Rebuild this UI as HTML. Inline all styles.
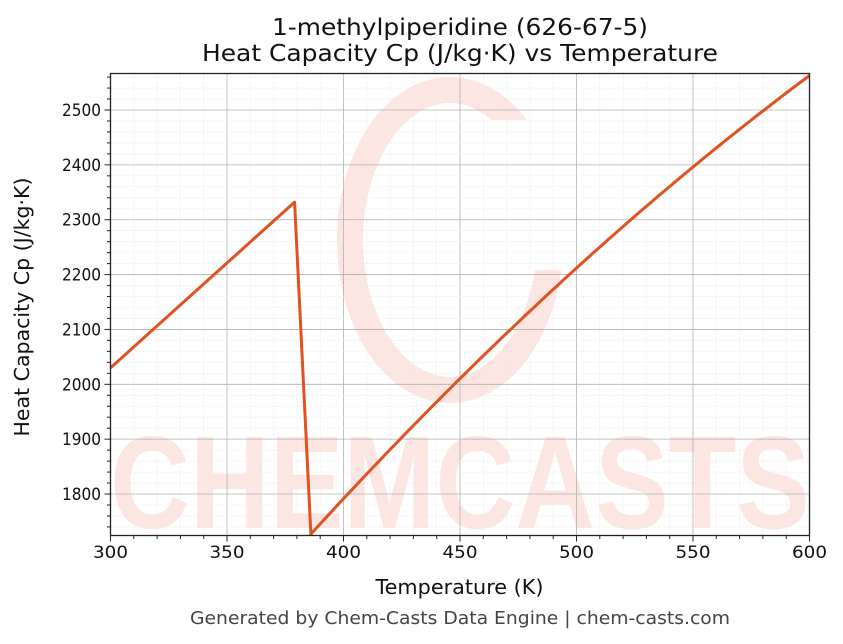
<!DOCTYPE html>
<html><head><meta charset="utf-8"><style>
html,body{margin:0;padding:0;background:#fff;}
svg{display:block;font-family:"DejaVu Sans","Liberation Sans",sans-serif;}
</style></head><body>
<svg id="s" width="843" height="644" viewBox="0 0 843 644" xmlns="http://www.w3.org/2000/svg">
<rect width="843" height="644" fill="#fff"/>
<g id="wm">
<ellipse cx="450" cy="240" rx="100" ry="150" fill="none" stroke="#fde6e2" stroke-width="26"/>
<rect x="482" y="120" width="100" height="150" fill="#fff"/>
<text x="460" y="528" text-anchor="middle" font-size="132" font-weight="bold" fill="#fde6e2" font-family="Liberation Sans, sans-serif" textLength="700" lengthAdjust="spacingAndGlyphs">CHEMCASTS</text>
</g>
<g id="grid"></g>
<path id="curve" fill="none" stroke="#e0521f" stroke-width="3" stroke-linejoin="round"/>
<rect x="110.5" y="73.5" width="699" height="462" fill="none" stroke="#222" stroke-width="1.3"/>
<g id="ticks"></g>
<text x="460" y="35" text-anchor="middle" font-size="23" fill="#111" textLength="376" lengthAdjust="spacingAndGlyphs">1-methylpiperidine (626-67-5)</text>
<text x="460" y="61" text-anchor="middle" font-size="23" fill="#111" textLength="516" lengthAdjust="spacingAndGlyphs">Heat Capacity Cp (J/kg·K) vs Temperature</text>
<text x="459.5" y="594" text-anchor="middle" font-size="20" fill="#111" textLength="168" lengthAdjust="spacingAndGlyphs">Temperature (K)</text>
<text transform="translate(29,307) rotate(-90)" text-anchor="middle" font-size="20" fill="#111" textLength="259" lengthAdjust="spacingAndGlyphs">Heat Capacity Cp (J/kg·K)</text>
<text x="460" y="624" text-anchor="middle" font-size="18" fill="#444" textLength="540" lengthAdjust="spacingAndGlyphs">Generated by Chem-Casts Data Engine | chem-casts.com</text>
</svg>
<script>
var NS="http://www.w3.org/2000/svg";
function X(T){return 110.5+(T-300)*2.33;}
function Y(C){return 384.3-(C-2000)*0.5486;}
function el(p,tag,a){var e=document.createElementNS(NS,tag);for(var k in a)e.setAttribute(k,a[k]);p.appendChild(e);return e;}
var g=document.getElementById('grid'),t=document.getElementById('ticks');
for(var T=300;T<=600;T+=10){var x=X(T),maj=T%50==0;
 el(g,'line',{x1:x,x2:x,y1:73.5,y2:535.5,stroke:maj?'#b0b0b0':'#e4e4e4','stroke-width':maj?0.8:0.6,'stroke-dasharray':maj?'':'2,2'});
 el(t,'line',{x1:x,x2:x,y1:535.5,y2:535.5+(maj?6:3.5),stroke:'#222','stroke-width':1});
 if(maj){var tx=el(t,'text',{x:x,y:558,'text-anchor':'middle','font-size':17,fill:'#111',textLength:35,lengthAdjust:'spacingAndGlyphs'});tx.textContent=T;}}
for(var C=1740;C<=2560;C+=20){var y=Y(C),maj=C%100==0;
 el(g,'line',{x1:110.5,x2:809.5,y1:y,y2:y,stroke:maj?'#b0b0b0':'#e4e4e4','stroke-width':maj?0.8:0.6,'stroke-dasharray':maj?'':'2,2'});
 el(t,'line',{x1:110.5,x2:110.5-(maj?6:3.5),y1:y,y2:y,stroke:'#222','stroke-width':1});
 if(maj){var ty=el(t,'text',{x:101,y:y+6,'text-anchor':'end','font-size':17,fill:'#111',textLength:39,lengthAdjust:'spacingAndGlyphs'});ty.textContent=C;}}
var d='M'+X(300)+','+Y(2030)+' L'+X(379)+','+Y(2332)+' L'+X(386)+','+Y(1727);
for(var T2=388;T2<=600;T2+=2){var tt=T2-386;var c=1727+4.65*tt-0.003477*tt*tt;d+=' L'+X(T2).toFixed(1)+','+Y(c).toFixed(1);}
document.getElementById('curve').setAttribute('d',d);
</script>
</body></html>
